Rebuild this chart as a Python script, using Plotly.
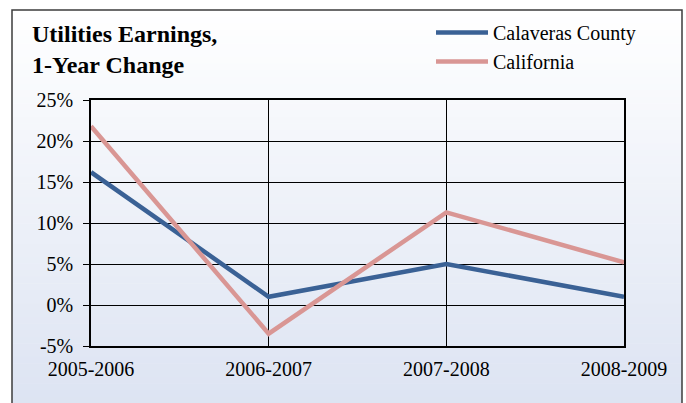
import plotly.graph_objects as go

periods = ["2005-2006", "2006-2007", "2007-2008", "2008-2009"]
calaveras = [16.2, 1.0, 5.0, 1.0]
california = [21.8, -3.5, 11.3, 5.2]
y_ticks = [-5, 0, 5, 10, 15, 20, 25]
y_tick_labels = ["-5%", "0%", "5%", "10%", "15%", "20%", "25%"]

W, H = 686, 403
L, R, T, B = 91, 624, 100, 346

def xp(px):
    return (px - L) / (R - L)

def yp(py):
    return (B - py) / (B - T)

fig = go.Figure()
fig.add_trace(go.Scatter(x=periods, y=calaveras, mode="lines", name="Calaveras County",
                         line=dict(color="#3a6195", width=4.5), legendgroup="a"))
fig.add_trace(go.Scatter(x=periods, y=california, mode="lines", name="California",
                         line=dict(color="#d99694", width=4.5), legendgroup="b"))

# background gradient inside frame
shapes = []
n = 60
top, bot = 10, 410
c0 = (255, 255, 255)
c1 = (220, 227, 242)
for i in range(n):
    y0 = top + (bot - top) * i / n
    y1 = top + (bot - top) * (i + 1) / n + 0.5
    t = (i + 0.5) / n
    c = tuple(int(round(c0[k] + (c1[k] - c0[k]) * t)) for k in range(3))
    shapes.append(dict(type="rect", xref="paper", yref="paper", layer="below",
                       x0=xp(12), x1=xp(682), y0=yp(y0), y1=yp(y1),
                       fillcolor="rgb(%d,%d,%d)" % c, line=dict(width=0)))
shapes.append(dict(type="rect", xref="paper", yref="paper", layer="below",
                   x0=xp(12), x1=xp(682), y0=yp(10), y1=yp(420),
                   fillcolor="rgba(0,0,0,0)", line=dict(color="#3c3c3c", width=1.5)))

font = "Times New Roman"
fig.update_layout(
    width=W, height=H,
    margin=dict(l=L, r=W - R, t=T, b=H - B),
    paper_bgcolor="white", plot_bgcolor="rgba(0,0,0,0)",
    shapes=shapes,
    title=dict(text="<b>Utilities Earnings,<br>1-Year Change</b>", xref="container", yref="container",
               x=32 / W, xanchor="left", y=1 - 42 / H, yanchor="top",
               font=dict(family=font, size=24, color="black")),
    legend=dict(x=xp(431), xanchor="left", y=yp(13), yanchor="top",
                bgcolor="rgba(0,0,0,0)", font=dict(family=font, size=20, color="black"),
                itemwidth=52, tracegroupgap=0, traceorder="grouped"),
    xaxis=dict(type="category", range=[0, 3], showgrid=True, gridcolor="black", gridwidth=1,
               showline=True, linecolor="black", linewidth=1.5, mirror=True,
               ticks="", ticklabelstandoff=4,
               tickfont=dict(family=font, size=20, color="black")),
    yaxis=dict(range=[-5, 25], tickvals=y_ticks, ticktext=y_tick_labels,
               showgrid=True, gridcolor="black", gridwidth=1, zeroline=False,
               showline=True, linecolor="black", linewidth=1.5, mirror=True,
               ticks="outside", ticklen=6, tickcolor="black", ticklabelstandoff=6,
               tickfont=dict(family=font, size=20, color="black")),
)

fig.write_html("out.html", config={"displayModeBar": False},
               post_script="document.body.style.margin='0';")
